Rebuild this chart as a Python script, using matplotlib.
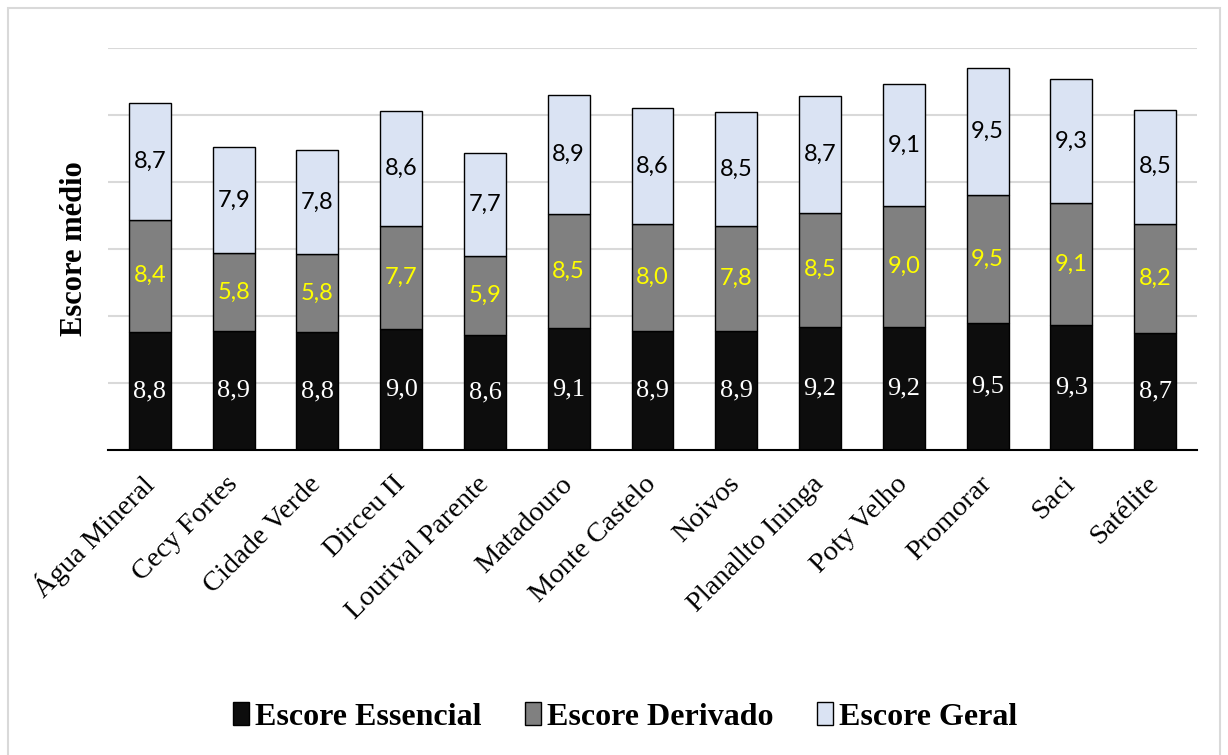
import matplotlib.pyplot as plt
from matplotlib.patches import Rectangle
import numpy as np

bairros = ["Água Mineral", "Cecy Fortes", "Cidade Verde", "Dirceu II", "Lourival Parente",
           "Matadouro", "Monte Castelo", "Noivos", "Planallto Ininga", "Poty Velho",
           "Promorar", "Saci", "Satélite"]
essencial = [8.8, 8.9, 8.8, 9.0, 8.6, 9.1, 8.9, 8.9, 9.2, 9.2, 9.5, 9.3, 8.7]
derivado = [8.4, 5.8, 5.8, 7.7, 5.9, 8.5, 8.0, 7.8, 8.5, 9.0, 9.5, 9.1, 8.2]
geral = [8.7, 7.9, 7.8, 8.6, 7.7, 8.9, 8.6, 8.5, 8.7, 9.1, 9.5, 9.3, 8.5]

serif = "Liberation Serif"
sans = "Lato"

fig = plt.figure(figsize=(12.28, 7.55), dpi=100)
ax = fig.add_axes([108/1228, 1-450/755, (1197-108)/1228, (450-48)/755])

x = np.arange(len(bairros))
w = 0.5
b1 = ax.bar(x, essencial, w, color="#0d0d0d", edgecolor="black", linewidth=1, label="Escore Essencial", zorder=3)
b2 = ax.bar(x, derivado, w, bottom=essencial, color="#808080", edgecolor="black", linewidth=1,
            label="Escore Derivado", zorder=3)
base2 = np.array(essencial) + np.array(derivado)
b3 = ax.bar(x, geral, w, bottom=base2, color="#dae3f3", edgecolor="black", linewidth=1,
            label="Escore Geral", zorder=3)

for i in range(len(bairros)):
    ax.text(x[i], essencial[i]/2, f"{essencial[i]:.1f}".replace(".", ","), ha="center", va="center",
            color="white", fontsize=19, family=serif, zorder=4)
    ax.text(x[i], essencial[i] + derivado[i]/2, f"{derivado[i]:.1f}".replace(".", ","), ha="center",
            va="center", color="#ffff00", fontsize=17, family=sans, zorder=4)
    ax.text(x[i], base2[i] + geral[i]/2, f"{geral[i]:.1f}".replace(".", ","), ha="center", va="center",
            color="black", fontsize=17, family=sans, zorder=4)

ax.set_xlim(-0.5, len(bairros) - 0.5)
ax.set_ylim(0, 30)
ax.set_yticks(np.arange(0, 31, 5))
ax.set_yticklabels([])
ax.tick_params(axis="y", length=0)
ax.tick_params(axis="x", length=0, pad=22)
ax.grid(axis="y", color="#d9d9d9", linewidth=1.5, zorder=0)
for s in ["left", "right", "top"]:
    ax.spines[s].set_visible(False)
ax.spines["bottom"].set_color("black")
ax.spines["bottom"].set_linewidth(1.5)
ax.spines["bottom"].set_zorder(5)

ax.set_xticks(x)
ax.set_xticklabels(bairros, rotation=45, ha="right", va="center", rotation_mode="anchor",
                   fontsize=20.5, family=serif)
ax.set_ylabel("Escore médio", fontsize=22, fontweight="bold", family=serif)
ax.yaxis.set_label_coords(-0.0174, 0.5)

fig.legend(handles=[b1, b2, b3], loc="center", bbox_to_anchor=(0.509, 1-717/755), ncol=3, frameon=False,
           prop={"family": serif, "weight": "bold", "size": 23}, handlelength=0.5, handleheight=0.7,
           handletextpad=0.2, columnspacing=1.35)

fig.patches.append(Rectangle((8/1228, -0.02), (1220-8)/1228, 1.02 - 8/755, transform=fig.transFigure,
                             fill=False, edgecolor="#d9d9d9", linewidth=1.5))

plt.savefig("out.png", dpi=100)
